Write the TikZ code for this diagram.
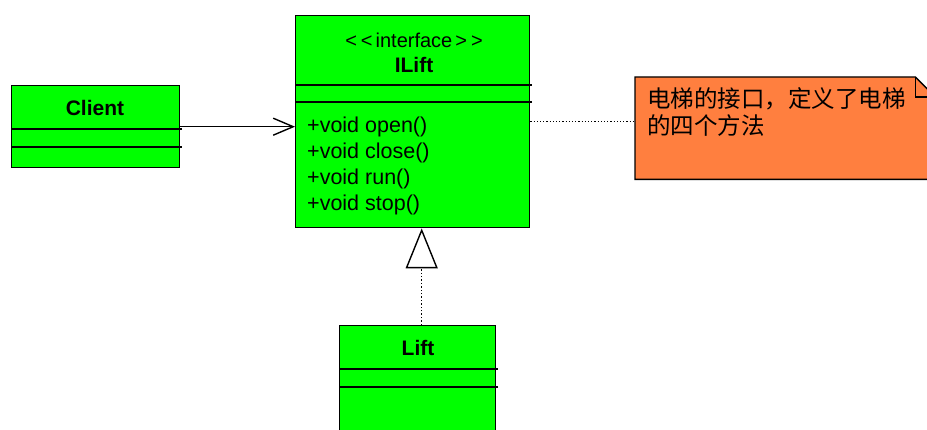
\documentclass[tikz,border=0pt]{standalone}
\usepackage{fontspec}
\setmainfont{Liberation Sans}
\newfontfamily\cjk{Noto Sans CJK SC}
\usetikzlibrary{arrows.meta,positioning,calc}
\definecolor{classG}{HTML}{00FF00}
\definecolor{noteO}{HTML}{FF7F3F}
\tikzset{
  classbox/.style={rectangle, draw=black, line width=1.4pt, fill=classG, anchor=north west, inner sep=0pt},
  compart/.style={line width=1.4pt},
  cname/.style={font=\fontsize{21}{24}\selectfont\bfseries, inner sep=0pt},
  stereo/.style={font=\fontsize{20}{22}\selectfont, inner sep=0pt},
  oplist/.style={font=\fontsize{21.5}{26}\selectfont, align=left, inner sep=0pt, anchor=north west},
  notebox/.style={rectangle, anchor=north west, inner sep=0pt},
  notetext/.style={font=\cjk\fontsize{23.5}{27}\selectfont, align=left, inner sep=0pt, anchor=north west},
  assoc/.style={-{Straight Barb[length=20pt, width=17pt, line width=1.4pt]}, line width=1.4pt},
  realize/.style={-{Triangle[open, length=40pt, width=32pt, line width=1.4pt]}, line width=1.4pt, dotted},
  anchorline/.style={line width=1.2pt, dotted},
}
\newcommand{\ltlt}{\textless\kern4pt\textless\kern3pt}
\newcommand{\gtgt}{\kern3pt\textgreater\kern4pt\textgreater}
\begin{document}
\begin{tikzpicture}[x=1pt, y=-1pt]
  \useasboundingbox (0,0) rectangle (927,430);
  \clip (0,0) rectangle (927,430);
  % classes
  \node[classbox, minimum width=168pt, minimum height=82pt] (client) at (11,85) {};
  \node[cname] (clientname) at (95,108) {Client};
  \draw[compart] (11,129) -- (182,129);
  \draw[compart] (11,147) -- (182,147);

  \node[classbox, minimum width=234pt, minimum height=212pt] (ilift) at (295,15) {};
  \node[stereo] (ilifttype) at (414,40) {\ltlt interface\gtgt};
  \node[cname] (iliftname) at (414,65) {ILift};
  \draw[compart] (295,85) -- (532,85);
  \draw[compart] (295,102) -- (532,102);
  \node[oplist] (iliftops) at (307,117) {+void open()\\+void close()\\+void run()\\+void stop()};

  \node[classbox, minimum width=156pt, minimum height=115pt] (lift) at (339,325) {};
  \node[cname] (liftname) at (418,348) {Lift};
  \draw[compart] (339,369) -- (498,369);
  \draw[compart] (339,387) -- (498,387);

  % note
  \node[notebox, minimum width=300pt, minimum height=102pt] (note) at (635,77) {};
  \filldraw[fill=noteO, draw=black, line width=1.4pt]
    (note.north west) -- ([xshift=-20pt]note.north east) -- ([yshift=-20pt]note.north east)
    -- (note.south east) -- (note.south west) -- cycle;
  \draw[line width=1.4pt] ([xshift=-20pt]note.north east) |- ([yshift=-20pt]note.north east);
  \node[notetext] (notetxt) at (647,87) {电梯的接口，定义了电梯\\的四个方法};

  % connectors
  \draw[assoc] (client.east) -- (client.east -| ilift.west);
  \draw[anchorline] (ilift.east) -- (ilift.east -| note.west);
  \draw[realize] ([xshift=4pt]lift.north) -- ([xshift=4pt]lift.north |- ilift.south);
\end{tikzpicture}
\end{document}
